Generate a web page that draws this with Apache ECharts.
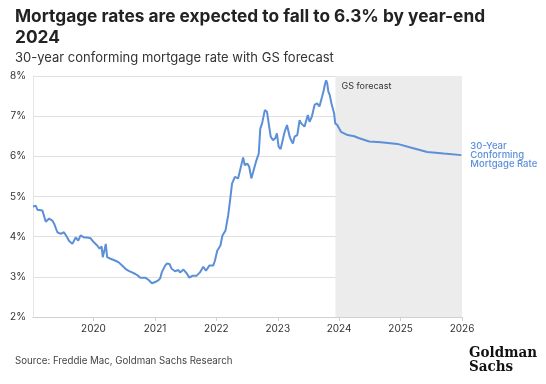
<!DOCTYPE html>
<html>
<head>
<meta charset="utf-8">
<script src="https://cdn.jsdelivr.net/npm/echarts@6/dist/echarts.min.js"></script>
<style>
html,body{margin:0;padding:0;background:#fff;}
#c{width:546px;height:384px;}
</style>
</head>
<body>
<div id="c"></div>
<script>
const dates = [
'2019-01-06','2019-01-23','2019-02-01','2019-03-03','2019-03-23','2019-04-12','2019-05-01','2019-05-11','2019-05-31','2019-06-20',
'2019-07-09','2019-07-29','2019-08-08','2019-08-28','2019-09-17','2019-10-02','2019-10-16','2019-11-05','2019-11-24','2019-12-15',
'2020-01-03','2020-01-23','2020-02-06','2020-02-18','2020-02-25','2020-03-08','2020-03-14','2020-03-22','2020-04-11','2020-05-11',
'2020-05-30','2020-06-19','2020-07-09','2020-07-28','2020-08-17','2020-09-06','2020-09-21','2020-10-05','2020-11-04','2020-11-24',
'2020-12-13','2021-01-02','2021-01-22','2021-02-01','2021-02-10','2021-03-02','2021-03-12','2021-03-28','2021-04-10','2021-04-30',
'2021-05-20','2021-05-30','2021-06-19','2021-07-08','2021-07-24','2021-08-13','2021-09-06','2021-09-25','2021-10-15','2021-10-31',
'2021-11-20','2021-12-13','2021-12-23','2022-01-06','2022-01-25','2022-02-06','2022-02-24','2022-03-12','2022-03-22','2022-04-04',
'2022-04-21','2022-05-10','2022-06-09','2022-06-19','2022-07-04','2022-07-15','2022-07-28','2022-08-07','2022-08-27','2022-09-10',
'2022-09-19','2022-09-30','2022-10-16','2022-10-29','2022-11-08','2022-11-20','2022-12-04','2022-12-17','2022-12-27','2023-01-06',
'2023-01-18','2023-01-28','2023-02-11','2023-02-25','2023-03-13','2023-03-22','2023-04-01','2023-04-11','2023-04-27','2023-05-11',
'2023-05-20','2023-06-09','2023-06-29','2023-07-09','2023-07-23','2023-08-08','2023-08-23','2023-09-06','2023-09-22','2023-10-02',
'2023-10-09','2023-10-16','2023-10-22','2023-10-29','2023-11-06','2023-11-16','2023-12-02','2023-12-09','2023-12-21','2024-01-12',
'2024-02-21','2024-03-31','2024-04-30','2024-06-28','2024-09-05','2024-12-13','2025-03-01','2025-06-08','2025-09-15','2025-12-28'
];
const rates = [
4.75,4.77,4.67,4.65,4.37,4.45,4.40,4.33,4.11,4.07,
4.11,3.98,3.90,3.82,3.98,3.90,4.03,3.98,3.98,3.96,
3.86,3.78,3.70,3.76,3.49,3.70,3.82,3.49,3.45,3.40,
3.36,3.28,3.20,3.15,3.11,3.07,3.03,2.98,2.98,2.92,
2.84,2.87,2.92,2.97,3.11,3.28,3.33,3.32,3.20,3.14,
3.17,3.11,3.18,3.09,2.98,3.03,3.03,3.11,3.25,3.15,
3.28,3.28,3.40,3.65,3.78,4.03,4.15,4.53,4.86,5.32,
5.49,5.45,5.97,5.78,5.82,5.74,5.45,5.49,5.90,6.07,
6.69,6.82,7.15,7.11,6.82,6.49,6.40,6.45,6.57,6.24,
6.18,6.18,6.61,6.78,6.49,6.40,6.32,6.49,6.53,6.90,
6.82,6.74,7.03,6.86,6.99,7.28,7.32,7.24,7.49,7.65,
7.80,7.89,7.82,7.61,7.53,7.32,7.07,6.82,6.78,6.61,
6.53,6.50,6.45,6.37,6.35,6.31,6.22,6.11,6.07,6.03
];
const yTicks = [2,3,4,5,6,7,8];
const forecastStart = '2023-12-10';
const forecastEnd = '2026-01-01';
const titleText = 'Mortgage rates are expected to fall to 6.3% by year-end\n2024';
const subtitleText = '30-year conforming mortgage rate with GS forecast';
const sourceText = 'Source: Freddie Mac, Goldman Sachs Research';
const seriesName = '30-Year\nConforming\nMortgage Rate';
const forecastLabel = 'GS forecast';

const chart = echarts.init(document.getElementById('c'), null, {renderer:'canvas'});
const FONT = 'Inter, "Noto Sans", sans-serif';
const option = {
  animation:false,
  backgroundColor:'#fff',
  textStyle:{fontFamily:FONT},
  title:[
    {text:titleText,left:10,top:1,textStyle:{fontSize:17.3,fontWeight:'bold',lineHeight:21,color:'#222',fontFamily:FONT}},
    {text:subtitleText,left:10,top:45,textStyle:{fontSize:13,fontWeight:'normal',lineHeight:16,color:'#333',fontFamily:FONT}},
    {text:sourceText,left:10,top:351,textStyle:{fontSize:9.7,fontWeight:'normal',color:'#444',fontFamily:FONT}},
    {text:'Goldman\nSachs',right:4,top:341,textStyle:{fontSize:15,fontWeight:'bold',lineHeight:14,color:'#111',fontFamily:'"DejaVu Serif Condensed","DejaVu Serif",serif'}}
  ],
  grid:{left:33,right:84,top:76,bottom:67,containLabel:false},
  xAxis:{
    type:'time',
    min:'2019-01-06',
    max:'2026-01-01',
    minInterval:365*86400000,
    maxInterval:366*86400000,
    axisLine:{show:true,lineStyle:{color:'#d0d0d0'}},
    axisTick:{show:true,length:4,lineStyle:{color:'#d0d0d0'}},
    axisLabel:{formatter:'{yyyy}',color:'#333',fontSize:10,margin:7,fontFamily:FONT,showMaxLabel:true},
    splitLine:{show:false}
  },
  yAxis:{
    type:'value',
    min:yTicks[0],
    max:yTicks[yTicks.length-1],
    interval:1,
    axisLine:{show:true,lineStyle:{color:'#e6e6e6'}},
    axisTick:{show:false},
    axisLabel:{formatter:'{value}%',color:'#333',fontSize:10,margin:7,fontFamily:FONT},
    splitLine:{show:true,lineStyle:{color:'#e0e0e0',width:1}}
  },
  series:[{
    type:'line',
    name:seriesName,
    data:dates.map((d,i)=>[d,rates[i]]),
    showSymbol:false,
    symbol:'none',
    lineStyle:{color:'#5b8fd8',width:2},
    itemStyle:{color:'#5b8fd8'},
    endLabel:{show:true,formatter:seriesName,color:'#5b8fd8',fontSize:9.5,lineHeight:9,fontWeight:500,distance:9,fontFamily:FONT},
    markArea:{
      silent:true,
      itemStyle:{color:'#ececec'},
      label:{show:true,position:'insideTopLeft',color:'#333',fontSize:9,fontFamily:FONT,padding:[1,0,0,1]},
      data:[[{name:forecastLabel,xAxis:forecastStart},{xAxis:forecastEnd}]]
    },
    z:3
  }]
};
chart.setOption(option);
</script>
</body>
</html>
